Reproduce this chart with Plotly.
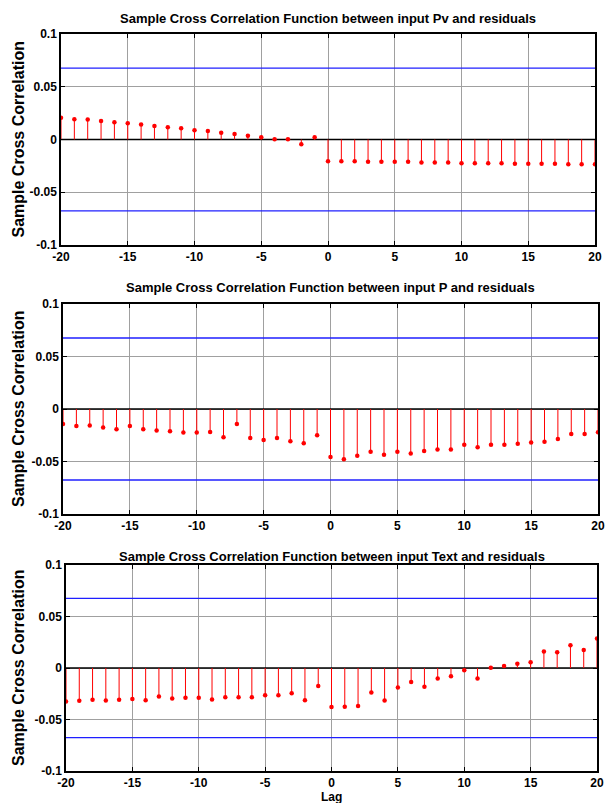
import plotly.graph_objects as go

lags = list(range(-20, 21))

xcf_pv = [0.0205, 0.0192, 0.0189, 0.0176, 0.0163, 0.0154, 0.0141, 0.0128, 0.0115, 0.0106,
          0.0087, 0.0080, 0.0064, 0.0051, 0.0035, 0.0022, 0.0003, 0.0003, -0.0045, 0.0022,
          -0.0207, -0.0205, -0.0205, -0.0212, -0.0212, -0.0212, -0.0212, -0.0218, -0.0218, -0.0218,
          -0.0224, -0.0224, -0.0224, -0.0224, -0.0231, -0.0231, -0.0231, -0.0231, -0.0234, -0.0234,
          -0.0234]

xcf_p = [-0.0144, -0.0163, -0.0157, -0.0176, -0.0192, -0.0163, -0.0192, -0.0205, -0.0212, -0.0224,
         -0.0224, -0.0218, -0.0269, -0.0144, -0.0276, -0.0295, -0.0276, -0.0308, -0.0327, -0.0250,
         -0.0458, -0.0478, -0.0446, -0.0407, -0.0436, -0.0407, -0.0423, -0.0401, -0.0385, -0.0385,
         -0.0340, -0.0365, -0.0340, -0.0340, -0.0330, -0.0320, -0.0311, -0.0285, -0.0237, -0.0237,
         -0.0221]

xcf_text = [-0.0325, -0.0318, -0.0309, -0.0315, -0.0309, -0.0302, -0.0312, -0.0277, -0.0296, -0.0289,
            -0.0289, -0.0305, -0.0283, -0.0283, -0.0283, -0.0264, -0.0264, -0.0244, -0.0312, -0.0174,
            -0.0379, -0.0376, -0.0370, -0.0238, -0.0315, -0.0190, -0.0135, -0.0183, -0.0103, -0.0080,
            -0.0023, -0.0103, 0.0002, 0.0019, 0.0042, 0.0055, 0.0161, 0.0154, 0.0222, 0.0174,
            0.0286]

bound = 0.0676

titles = [
    "Sample Cross Correlation Function between input Pv and residuals",
    "Sample Cross Correlation Function between input P and residuals",
    "Sample Cross Correlation Function between input Text and residuals",
]
series = [xcf_pv, xcf_p, xcf_text]

xtickvals = [-20, -15, -10, -5, 0, 5, 10, 15, 20]
xticktext = ["-20", "-15", "-10", "-5", "0", "5", "10", "15", "20"]
ytickvals = [-0.1, -0.05, 0, 0.05, 0.1]
yticktext = ["-0.1", "-0.05", "0", "0.05", "0.1"]

W, H = 606, 803
# pixel boxes: (left, right, top, bottom), title centre y
boxes = [(61, 595, 34, 245), (63, 598, 304, 514), (66, 597, 565, 771)]
title_y = [19, 287, 556]

fig = go.Figure()
FONT = "Liberation Sans, Arial, sans-serif"

for i, (vals, title, box, ty) in enumerate(zip(series, titles, boxes, title_y)):
    n = i + 1
    xa = "x" if n == 1 else f"x{n}"
    ya = "y" if n == 1 else f"y{n}"
    sx, sy = [], []
    for l, v in zip(lags, vals):
        sx += [l, l, None]
        sy += [0, v, None]
    for b in (bound, -bound):
        fig.add_trace(go.Scatter(x=[lags[0], lags[-1]], y=[b, b], mode="lines",
                                 line=dict(color="#1f1fff", width=1.3),
                                 xaxis=xa, yaxis=ya, showlegend=False, hoverinfo="skip"))
    fig.add_trace(go.Scatter(x=[lags[0], lags[-1]], y=[0, 0], mode="lines",
                             line=dict(color="black", width=1.6),
                             xaxis=xa, yaxis=ya, showlegend=False, hoverinfo="skip"))
    fig.add_trace(go.Scatter(x=sx, y=sy, mode="lines", line=dict(color="#ff0000", width=1),
                             xaxis=xa, yaxis=ya, showlegend=False, hoverinfo="skip"))
    fig.add_trace(go.Scatter(x=lags, y=vals, mode="markers",
                             marker=dict(color="#ff0000", size=4.5),
                             xaxis=xa, yaxis=ya, showlegend=False))
    l, r, t, b_ = box
    xd = [l / W, r / W]
    yd = [1 - b_ / H, 1 - t / H]
    axcommon = dict(showline=True, mirror="ticks", linecolor="black", linewidth=1.5,
                    ticks="inside", ticklen=4, tickcolor="black", automargin=False,
                    ticklabeloverflow="allow",
                    showgrid=True, gridcolor="#a0a0a0", gridwidth=1, zeroline=False,
                    tickfont=dict(family=FONT, size=12, color="black", weight="bold"))
    fig.update_layout(**{
        ("xaxis" if n == 1 else f"xaxis{n}"): dict(domain=xd, range=[-20, 20], anchor=ya,
                                                   tickvals=xtickvals, ticktext=xticktext,
                                                   **axcommon),
        ("yaxis" if n == 1 else f"yaxis{n}"): dict(domain=yd, range=[-0.1, 0.1], anchor=xa,
                                                   tickvals=ytickvals, ticktext=yticktext,
                                                   **axcommon),
    })
    fig.add_annotation(text=title, x=(l + r) / 2 / W, y=1 - ty / H, xref="paper", yref="paper",
                       showarrow=False, xanchor="center", yanchor="middle",
                       font=dict(family=FONT, size=13, color="black", weight="bold"))
    fig.add_annotation(text="Sample Cross Correlation", x=18 / W, y=1 - (t + b_) / 2 / H,
                       xref="paper", yref="paper", showarrow=False, textangle=-90,
                       xanchor="center", yanchor="middle",
                       font=dict(family=FONT, size=16, color="black", weight="bold"))

fig.add_annotation(text="Lag", x=(66 + 597) / 2 / W, y=1 - 797 / H, xref="paper", yref="paper",
                   showarrow=False, xanchor="center", yanchor="middle",
                   font=dict(family=FONT, size=12, color="black", weight="bold"))

fig.update_layout(width=W, height=H, margin=dict(l=0, r=0, t=0, b=0),
                  paper_bgcolor="white", plot_bgcolor="white")

fig.write_html("out.html")
